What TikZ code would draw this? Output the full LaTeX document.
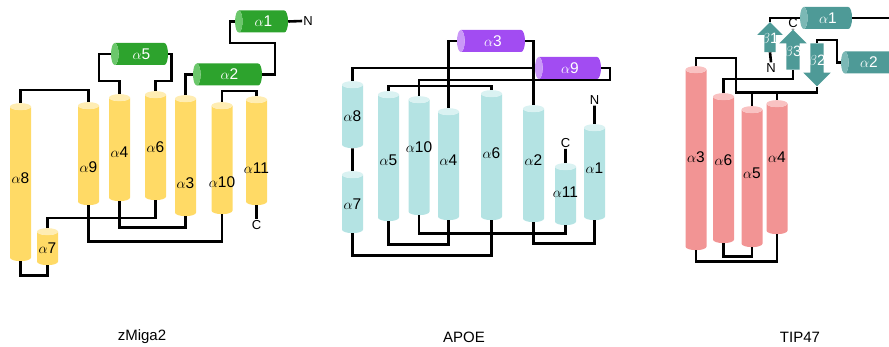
\documentclass[tikz,border=0pt]{standalone}
\usepackage{fontspec}
\setmainfont{Liberation Sans}
\usetikzlibrary{shapes.geometric,shapes.arrows}

\definecolor{zyel}{HTML}{FFDA66}
\definecolor{zyeltop}{HTML}{FFEDB3}
\definecolor{zgrn}{HTML}{2DA32D}
\definecolor{zgrnend}{HTML}{6BC76B}
\definecolor{acyan}{HTML}{B4E3E3}
\definecolor{acyantop}{HTML}{DAF2F2}
\definecolor{apur}{HTML}{A24CF2}
\definecolor{apurend}{HTML}{CA98F8}
\definecolor{tred}{HTML}{F29494}
\definecolor{tredtop}{HTML}{F9C2C2}
\definecolor{tteal}{HTML}{4E9A97}
\definecolor{ttealend}{HTML}{7BB8B5}

% width of the core sets the curvature of the helix ends
\newcommand{\hxcore}{\rule{10pt}{0pt}}

\tikzset{
  helix/.style={cylinder, shape border rotate=90, aspect=0.7, minimum width=21pt,
    inner sep=0pt, draw=none, cylinder uses custom fill},
  rod/.style={cylinder, shape border rotate=180, aspect=0.7, minimum width=22pt,
    inner sep=0pt, draw=none, cylinder uses custom fill, text=white},
  strand/.style={single arrow, single arrow head extend=7pt, inner sep=0pt,
    draw=none, fill=tteal, text=white, font=\fontsize{15}{17}\selectfont},
  yel/.style={cylinder body fill=zyel, cylinder end fill=zyeltop},
  grn/.style={cylinder body fill=zgrn, cylinder end fill=zgrnend},
  cya/.style={cylinder body fill=acyan, cylinder end fill=acyantop},
  pur/.style={cylinder body fill=apur, cylinder end fill=apurend},
  red/.style={cylinder body fill=tred, cylinder end fill=tredtop},
  tea/.style={cylinder body fill=tteal, cylinder end fill=ttealend},
  conn/.style={line width=2.6pt, black},
  term/.style={inner sep=1pt, font=\fontsize{13}{15}\selectfont},
  caption/.style={font=\fontsize{15}{18}\selectfont}
}

\begin{document}
\begin{tikzpicture}[x=1pt,y=-1pt,font=\fontsize{15.5}{18}\selectfont]
\useasboundingbox (0,0) rectangle (889,347);

% zMiga2
\node[helix, yel, minimum height=158pt, label={[yshift=6pt]center:$\alpha$8}] (a8) at (20.5,184) {\hxcore};
\node[helix, yel, minimum height=103pt, label={[yshift=-11.5pt]center:$\alpha$9}] (a9) at (88.5,155.5) {\hxcore};
\node[helix, yel, minimum height=107pt, label={[yshift=-2.5pt]center:$\alpha$4}] (a4) at (119.5,149.5) {\hxcore};
\node[helix, yel, minimum height=109pt, label={center:$\alpha$6}] (a6) at (155.5,147.5) {\hxcore};
\node[helix, yel, minimum height=121pt, label={[yshift=-25.5pt]center:$\alpha$3}] (a3) at (185.5,157.5) {\hxcore};
\node[helix, yel, minimum height=112pt, label={[yshift=-22pt]center:$\alpha$10}] (a10) at (222,160) {\hxcore};
\node[helix, yel, minimum height=109pt, label={[yshift=-15.5pt]center:$\alpha$11}] (a11) at (256.5,152.5) {\hxcore};
\node[helix, yel, minimum height=37pt, label={center:$\alpha$7}] (a7) at (47.5,248.5) {\hxcore};
\node[rod, grn, minimum height=57pt] (a5) at (141.5,54) {$\alpha$5};
\node[rod, grn, minimum height=53pt] (a1) at (263.5,21.5) {$\alpha$1};
\node[rod, grn, minimum height=69pt] (a2) at (229.5,74.5) {$\alpha$2};
\node[term] (nz) at (308,21) {N};
\node[term] (cz) at (256.5,225) {C};
\draw[conn] (a1.east) -- (nz.west);
\draw[conn] (a1.west) -- ++(-5,0) |- (275,43) |- (a2.east);
\draw[conn] (a2.west) -| (a3.north);
\draw[conn] (a5.west) -- ++(-12,0) |- ([yshift=13pt]a4.north) -- (a4.north);
\draw[conn] (a5.east) -- ++(3,0) |- ([yshift=10pt]a6.north) -- (a6.north);
\draw[conn] (a8.north) -- ++(0,-13) -| (a9.north);
\draw[conn] (a10.north) -- ++(0,-11) -| (a11.north);
\draw[conn] (a11.south) -- (cz.north);
\draw[conn] (a8.south) -- ++(0,14) -| (a7.south);
\draw[conn] (a7.north) -- ++(0,-10) -| (a6.south);
\draw[conn] (a4.south) -- ++(0,26) -| (a3.south);
\draw[conn] (a9.south) -- ++(0,36) -| (a10.south);
\node[caption] (zmiga) at (142,337) {zMiga2};

% APOE
\node[helix, cya, minimum height=67pt, label={center:$\alpha$8}] (b8) at (352.5,116.5) {\hxcore};
\node[helix, cya, minimum height=62pt, label={center:$\alpha$7}] (b7) at (352.5,204) {\hxcore};
\node[helix, cya, minimum height=130pt, label={[yshift=-2pt]center:$\alpha$5}] (b5) at (388.5,158) {\hxcore};
\node[helix, cya, minimum height=119pt, label={[yshift=10.5pt]center:$\alpha$10}] (b10) at (419,157.5) {\hxcore};
\node[helix, cya, minimum height=112pt, label={[yshift=6pt]center:$\alpha$4}] (b4) at (448.5,166) {\hxcore};
\node[helix, cya, minimum height=130pt, label={[yshift=4pt]center:$\alpha$6}] (b6) at (491.5,157) {\hxcore};
\node[helix, cya, minimum height=117pt, label={[yshift=5.5pt]center:$\alpha$2}] (b2) at (533.5,165.5) {\hxcore};
\node[helix, cya, minimum height=62pt, label={[yshift=4pt]center:$\alpha$11}] (b11) at (565.5,196) {\hxcore};
\node[helix, cya, minimum height=96pt, label={[yshift=6pt]center:$\alpha$1}] (b1) at (594.5,174) {\hxcore};
\node[rod, pur, minimum height=68pt] (b3) at (493,41) {$\alpha$3};
\node[rod, pur, minimum height=66pt] (b9) at (570,68) {$\alpha$9};
\node[term] (na) at (594.5,100) {N};
\node[term] (ca) at (565.5,143) {C};
\draw[conn] (b1.north) -- (na.south);
\draw[conn] (b11.north) -- (ca.south);
\draw[conn] (b8.south) -- (b7.north);
\draw[conn] (b8.north) |- (b9.west);
\draw[conn] (b9.east) -- ++(9,0) |- ([yshift=16pt]b10.north) -- (b10.north);
\draw[conn] (b3.west) -| (b4.north);
\draw[conn] (b3.east) -| (b2.north);
\draw[conn] (b5.north) -- ++(0,-5) -| (b6.north);
\draw[conn] (b5.south) -- ++(0,23) -| (b4.south);
\draw[conn] (b10.south) -- ++(0,18) -| (b11.south);
\draw[conn] (b7.south) -- ++(0,22) -| (b6.south);
\draw[conn] (b2.south) -- ++(0,21) -| (b1.south);
\node[caption] (apoe) at (464,337) {APOE};

% TIP47
\node[helix, red, minimum height=184pt, label={[yshift=3pt]center:$\alpha$3}] (c3) at (696,160) {\hxcore};
\node[helix, red, minimum height=150pt, label={[yshift=10pt]center:$\alpha$6}] (c6) at (723.5,170) {\hxcore};
\node[helix, red, minimum height=141pt, label={[yshift=5.5pt]center:$\alpha$5}] (c5) at (752,178.5) {\hxcore};
\node[helix, red, minimum height=134pt, label={[yshift=12pt]center:$\alpha$4}] (c4) at (777,169) {\hxcore};
\node[rod, tea, minimum height=52pt] (c1) at (828,18) {$\alpha$1};
\node[rod, tea, minimum height=52pt] (c2) at (869,62.5) {$\alpha$2};
\node[strand, shape border rotate=90, minimum height=30pt] (s1) at (770,40) {\makebox[11pt]{$\beta$1}};
\node[strand, shape border rotate=90, minimum height=40pt] (s3) at (793,53) {\makebox[13pt]{$\beta$3}};
\node[strand, shape border rotate=270, minimum height=43pt] (s2) at (817,61.5) {\makebox[13pt]{$\beta$2}};
\node[term] (nt) at (771,68) {N};
\node[term] (ct) at (793,23) {C};
\coordinate (tend) at (895,18);
\draw[conn] (c1.east) -- (tend);
\draw[conn] (c1.west) -| (s1.north);
\draw[conn] (ct.south) -- (s3.north);
\draw[conn] (s1.south) -- (nt.north);
\draw[conn] (s2.north) -- ++(0,-3) -- ++(20,0) |- (c2.west);
\draw[conn] (s3.south) -- ++(0,9) -| (c6.north);
\draw[conn] (c3.north) -- ++(0,-8) -- ++(40,0) |- ([yshift=-6pt]s2.south) -- (s2.south);
\draw[conn] (c5.north) -- ++(0,-14) -| (c4.north);
\draw[conn] (c3.south) -- ++(0,11) -| (c4.south);
\draw[conn] (c6.south) -- ++(0,13) -| (c5.south);
\node[caption] (tip) at (800,337) {TIP47};
\end{tikzpicture}
\end{document}
